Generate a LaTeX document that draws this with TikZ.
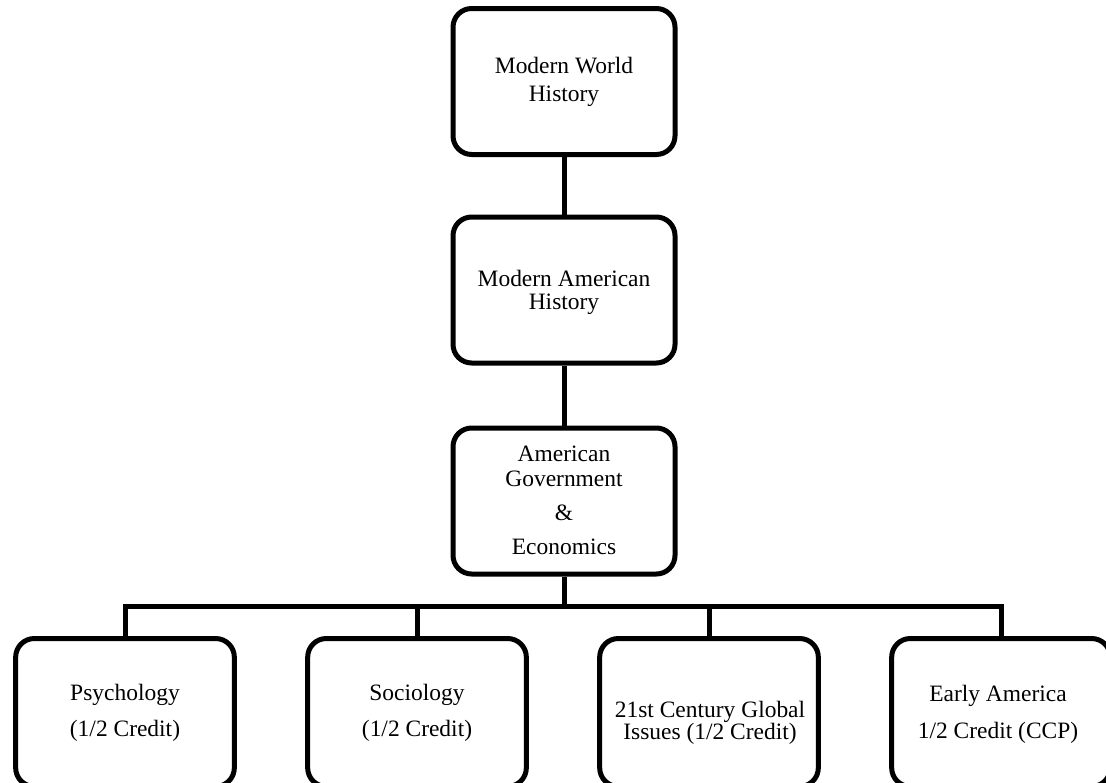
\documentclass[tikz,border=0pt]{standalone}
\usepackage{fontspec}
\setmainfont{Liberation Serif}
\begin{document}
\begin{tikzpicture}[x=0.75pt,y=-0.75pt,
  box/.style={draw=black, line width=3.75pt, rounded corners=14pt, inner sep=0pt},
  topbox/.style={box, minimum width=166.5pt, minimum height=109.5pt},
  leafbox/.style={box, minimum width=164pt, minimum height=111pt},
  lbl/.style={anchor=base, inner sep=0pt, font=\fontsize{17.6}{21}\selectfont},
  link/.style={line width=3.75pt, line join=miter}]
\useasboundingbox (0,0) rectangle (1106,782);
\clip (0,0) rectangle (1106,782);

% boxes
\node[topbox] (b1) at (564,81.5) {};
\node[topbox] (b2) at (564,290) {};
\node[topbox] (b3) at (564,501) {};
\node[leafbox] (b4) at (125,712.5) {};
\node[leafbox] (b5) at (417,712.5) {};
\node[leafbox] (b6) at (709,712.5) {};
\node[leafbox] (b7) at (1001,712.5) {};

% texts
\node[lbl] (t1a) at (564,73) {Modern World};
\node[lbl] (t1b) at (564,101) {History};
\node[lbl] (t2a) at (564,286) {Modern American};
\node[lbl] (t2b) at (564,309) {History};
\node[lbl] (t3a) at (564,461) {American};
\node[lbl] (t3b) at (564,486) {Government};
\node[lbl] (t3c) at (564,520) {\&};
\node[lbl] (t3d) at (564,554) {Economics};
\node[lbl] (t4a) at (125,700) {Psychology};
\node[lbl] (t4b) at (125,736) {(1/2 Credit)};
\node[lbl] (t5a) at (417,700) {Sociology};
\node[lbl] (t5b) at (417,736) {(1/2 Credit)};
\node[lbl] (t6a) at (710,717) {21st Century Global};
\node[lbl] (t6b) at (710,739) {Issues (1/2 Credit)};
\node[lbl] (t7a) at (998,701) {Early America};
\node[lbl] (t7b) at (998,738) {1/2 Credit (CCP)};

% connectors
\coordinate (j) at (564,606);
\draw[link] (b1.south) -- (b2.north);
\draw[link] (b2.south) -- (b3.north);
\draw[link] (b3.south) -- (j);
\draw[link] (b4.north) -- (b4.north |- j) -- (b7.north |- j) -- (b7.north);
\draw[link] (b5.north) -- (b5.north |- j);
\draw[link] (b6.north) -- (b6.north |- j);
\end{tikzpicture}
\end{document}
